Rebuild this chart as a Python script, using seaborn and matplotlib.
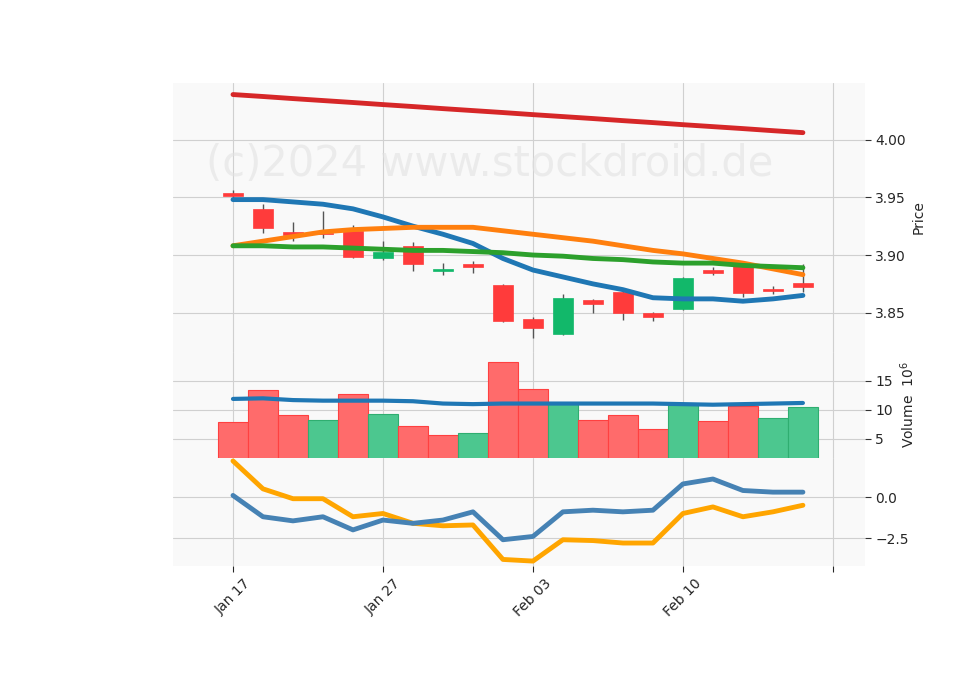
import numpy as np
import pandas as pd
import matplotlib
matplotlib.use("Agg")
import matplotlib.pyplot as plt
import seaborn as sns

dates = ["Jan 17", "Jan 21", "Jan 22", "Jan 23", "Jan 24", "Jan 27", "Jan 28", "Jan 29", "Jan 30", "Jan 31",
         "Feb 03", "Feb 04", "Feb 05", "Feb 06", "Feb 07", "Feb 10", "Feb 11", "Feb 12", "Feb 13", "Feb 14"]
opens = [3.954, 3.940, 3.920, 3.919, 3.921, 3.897, 3.908, 3.886, 3.892, 3.874,
         3.845, 3.832, 3.861, 3.868, 3.850, 3.853, 3.887, 3.891, 3.871, 3.876]
closes = [3.951, 3.923, 3.917, 3.918, 3.898, 3.903, 3.892, 3.888, 3.890, 3.843,
          3.837, 3.863, 3.858, 3.850, 3.846, 3.880, 3.884, 3.867, 3.869, 3.872]
highs = [3.956, 3.944, 3.929, 3.938, 3.926, 3.912, 3.911, 3.893, 3.895, 3.875,
         3.846, 3.866, 3.862, 3.869, 3.851, 3.881, 3.890, 3.892, 3.873, 3.892]
lows = [3.949, 3.919, 3.912, 3.915, 3.897, 3.896, 3.886, 3.883, 3.884, 3.842,
        3.828, 3.831, 3.850, 3.844, 3.843, 3.852, 3.883, 3.864, 3.866, 3.868]
ma_red = [4.0390, 4.0373, 4.0355, 4.0338, 4.0321, 4.0303, 4.0286, 4.0268, 4.0251, 4.0234,
          4.0216, 4.0199, 4.0182, 4.0164, 4.0147, 4.0129, 4.0112, 4.0095, 4.0077, 4.0060]
ma_blue = [3.948, 3.948, 3.946, 3.944, 3.940, 3.933, 3.925, 3.918, 3.910, 3.897,
           3.887, 3.881, 3.875, 3.870, 3.863, 3.862, 3.862, 3.860, 3.862, 3.865]
ma_orange = [3.908, 3.912, 3.916, 3.920, 3.922, 3.923, 3.924, 3.924, 3.924, 3.921,
             3.918, 3.915, 3.912, 3.908, 3.904, 3.901, 3.897, 3.893, 3.888, 3.883]
ma_green = [3.908, 3.908, 3.907, 3.907, 3.906, 3.905, 3.904, 3.904, 3.903, 3.902,
            3.900, 3.899, 3.897, 3.896, 3.894, 3.893, 3.893, 3.891, 3.890, 3.889]
volume = [7.9, 13.4, 9.1, 8.3, 12.8, 9.3, 7.2, 5.7, 6.0, 18.3,
          13.6, 11.0, 8.3, 9.1, 6.7, 10.9, 8.1, 10.7, 8.6, 10.5]
vol_up = [0, 0, 0, 1, 0, 1, 0, 0, 1, 0, 0, 1, 0, 0, 0, 1, 0, 0, 1, 1]
vol_ma = [11.9, 12.0, 11.7, 11.6, 11.6, 11.6, 11.5, 11.1, 11.0, 11.1,
          11.1, 11.1, 11.1, 11.1, 11.1, 11.0, 10.9, 11.0, 11.1, 11.2]
ind_blue = [0.1, -1.2, -1.45, -1.2, -2.0, -1.4, -1.6, -1.4, -0.9, -2.6,
            -2.4, -0.9, -0.8, -0.9, -0.8, 0.8, 1.1, 0.4, 0.3, 0.3]
ind_orange = [2.2, 0.5, -0.1, -0.1, -1.2, -1.0, -1.6, -1.75, -1.7, -3.8,
              -3.9, -2.6, -2.65, -2.8, -2.8, -1.0, -0.6, -1.2, -0.9, -0.5]

df = pd.DataFrame({"i": np.arange(len(dates)), "ma_red": ma_red, "ma_blue": ma_blue,
                   "ma_orange": ma_orange, "ma_green": ma_green, "vol_ma": vol_ma,
                   "ind_blue": ind_blue, "ind_orange": ind_orange})

sns.set_style("whitegrid", {"axes.facecolor": "#f9f9f9", "grid.color": "#d0d0d0"})
fig = plt.figure(figsize=(9.6, 6.9), dpi=100)
L, W = 173 / 960, (865 - 173) / 960
def axrect(top, bot):
    return [L, 1 - bot / 690, W, (bot - top) / 690]
ax1 = fig.add_axes(axrect(83, 352))
ax2 = fig.add_axes(axrect(352, 458), sharex=ax1)
ax3 = fig.add_axes(axrect(458, 566), sharex=ax1)

red, green = "#ff3b3b", "#12b86a"
for i in range(len(dates)):
    c = green if closes[i] >= opens[i] else red
    ax1.vlines(i, lows[i], highs[i], color="#555555", lw=1, zorder=2)
    lo, hi = min(opens[i], closes[i]), max(opens[i], closes[i])
    ax1.bar(i, max(hi - lo, 0.0008), bottom=lo, width=0.65, color=c, edgecolor=c, lw=0.5, zorder=3)
for col, c in [("ma_red", "#d62728"), ("ma_blue", "#1f77b4"), ("ma_orange", "#ff7f0e"), ("ma_green", "#2ca02c")]:
    sns.lineplot(data=df, x="i", y=col, ax=ax1, color=c, lw=3.5, zorder=4)
ax1.text(0.458, 0.7, "(c)2024 www.stockdroid.de", transform=ax1.transAxes, ha="center", va="center",
         fontsize=30, color="#e2e2e2", alpha=0.6, zorder=1)
ax1.set_ylim(3.816, 4.049)
ax1.set_yticks([3.85, 3.90, 3.95, 4.00])
ax1.set_ylabel("Price")

vcols = ["#4cc78f" if u else "#ff6b6b" for u in vol_up]
ax2.bar(df["i"], volume, width=1.0, color=vcols, edgecolor=["#2fae70" if u else "#ff4040" for u in vol_up], lw=0.8, zorder=2)
sns.lineplot(data=df, x="i", y="vol_ma", ax=ax2, color="#1f77b4", lw=3, zorder=3)
ax2.set_ylim(1.7, 20)
ax2.set_yticks([5, 10, 15])
ax2.set_ylabel("Volume  $10^6$")

sns.lineplot(data=df, x="i", y="ind_orange", ax=ax3, color="#ffa500", lw=3.5)
sns.lineplot(data=df, x="i", y="ind_blue", ax=ax3, color="#4682b4", lw=3.5)
ax3.set_ylim(-4.2, 2.38)
ax3.set_yticks([-2.5, 0.0])
ax3.set_ylabel("")

for ax in (ax1, ax2, ax3):
    ax.yaxis.tick_right()
    ax.yaxis.set_label_position("right")
    ax.tick_params(axis="y", length=4, right=True, color="#333333")
    ax.set_xlabel("")
    for s in ax.spines.values():
        s.set_visible(False)
ax1.set_xlim(-2, 21.07)
ax3.set_xticks([0, 5, 10, 15, 20])
ax3.set_xticklabels(["Jan 17", "Jan 27", "Feb 03", "Feb 10", ""], rotation=45)
ax3.tick_params(axis="x", length=4, bottom=True)
plt.setp(ax1.get_xticklabels(), visible=False)
plt.setp(ax2.get_xticklabels(), visible=False)

fig.savefig("out.png", dpi=100)
